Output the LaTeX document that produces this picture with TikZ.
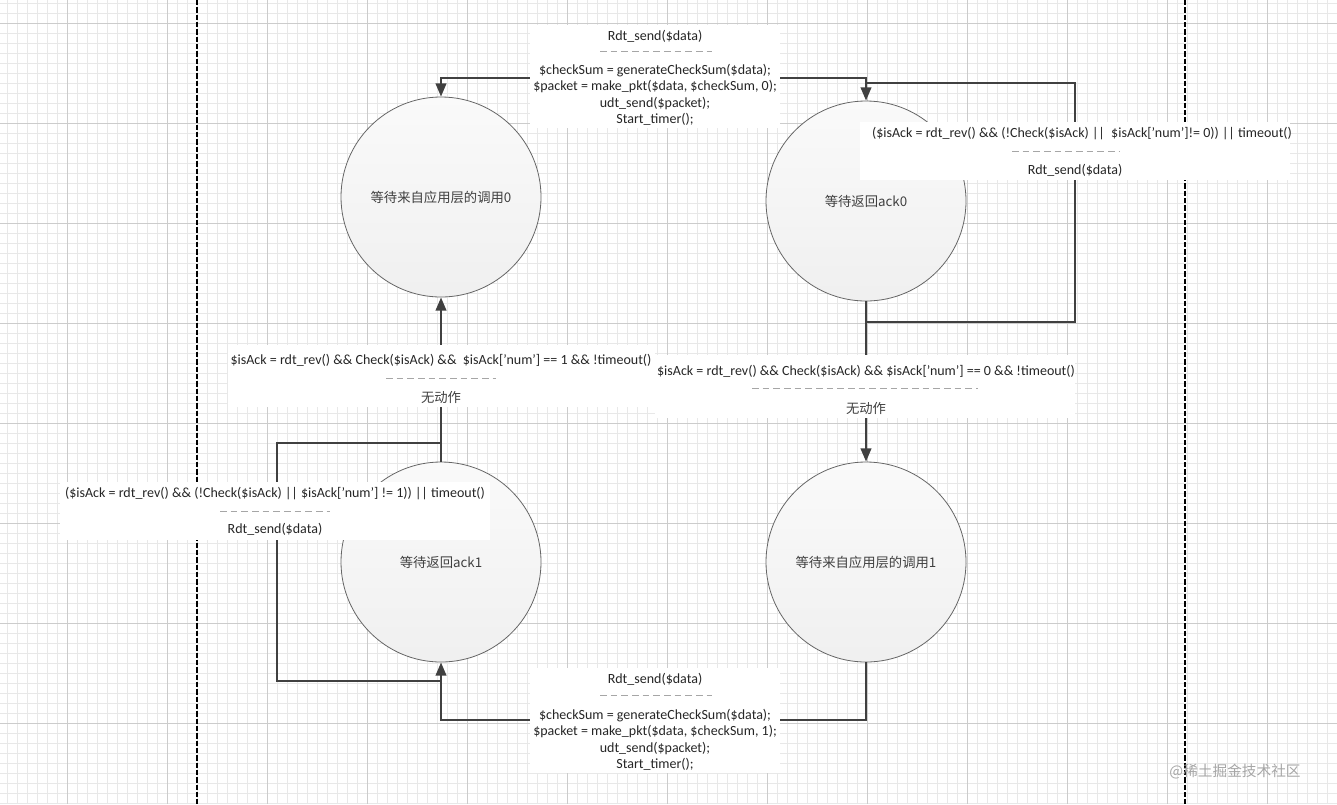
\documentclass[tikz,border=0pt]{standalone}
\usepackage{fontspec}
\setmainfont{Carlito}
\newfontfamily\cjk{Noto Sans CJK SC}
\usetikzlibrary{arrows.meta}
\begin{document}
\begin{tikzpicture}[x=0.75pt,y=-0.75pt,
  st/.style={circle,draw=gray!80!black,line width=0.6pt,minimum size=150pt,inner sep=0pt,
    top color=gray!4,bottom color=gray!12,font=\cjk\fontsize{10}{12}\selectfont,text=black!75},
  conn/.style={draw=black!75,line width=1.6pt},
  arr/.style={-{Triangle[length=10pt,width=8pt]}},
  box/.style={fill=white,draw=none,inner sep=0pt},
  lbl/.style={font=\fontsize{10.5}{12.4}\selectfont,align=center,inner sep=0pt,text=black!85},
  zh/.style={font=\cjk\fontsize{10}{12}\selectfont,inner sep=0pt,text=black!75},
  sep/.style={draw=gray!70,line width=0.7pt,dash pattern=on 5pt off 3pt}]
\useasboundingbox (0,0) rectangle (1337,804);
\fill[white] (0,0) rectangle (1337,804);
% grid
\foreach \x in {7,17,...,1337} \draw[black!9,line width=0.4pt] (\x,0) -- (\x,804);
\foreach \y in {3,13,...,804} \draw[black!9,line width=0.4pt] (0,\y) -- (1337,\y);
\foreach \x in {67,167,...,1337} \draw[black!20,line width=0.5pt] (\x,0) -- (\x,804);
\foreach \y in {23,123,...,804} \draw[black!20,line width=0.5pt] (0,\y) -- (1337,\y);
\draw[black,line width=0.8pt,dash pattern=on 4pt off 1.5pt] (197,0) -- (197,804);
\draw[black,line width=0.8pt,dash pattern=on 4pt off 1.5pt] (1185,0) -- (1185,804);

% states
\node[st] (A) at (441,197) {等待来自应用层的调用0};
\node[st] (B) at (866,201) {等待返回ack0};
\node[st] (C) at (441,562) {等待返回ack1};
\node[st] (D) at (866,562) {等待来自应用层的调用1};

\coordinate (t1) at (441,78); \coordinate (t2) at (866,78);
\coordinate (b1) at (866,322); \coordinate (b2) at (1075,322);
\coordinate (b3) at (1075,83); \coordinate (b4) at (866,83);
\coordinate (c1) at (441,443); \coordinate (c2) at (277,443);
\coordinate (c3) at (277,681); \coordinate (c4) at (441,681);
\coordinate (d1) at (866,720); \coordinate (d2) at (441,720);

% connectors
\draw[conn,{Triangle[length=10pt,width=8pt]}-{Triangle[length=10pt,width=8pt]}] (A.north) -- (t1) -- (t2) -- (B.north);
\draw[conn] (B.south) -- (b1) -- (b2) -- (b3) -- (b4);
\draw[conn,arr] (B.south) -- (D.north);
\draw[conn,arr] (C.north) -- (A.south);
\draw[conn] (C.north) -- (c1) -- (c2) -- (c3) -- (c4);
\draw[conn,arr] (D.south) -- (d1) -- (d2) -- (C.south);

% label boxes
\fill[white] (530,25) rectangle (780,128);
\fill[white] (860,122) rectangle (1290,180);
\fill[white] (228,345) rectangle (655,407);
\fill[white] (655,355) rectangle (1075,418);
\fill[white] (60,482) rectangle (490,540);
\fill[white] (530,668) rectangle (780,773);

% top label
\node[lbl] (l1a) at (655,36) {Rdt\_send(\$data)};
\draw[sep] (600,51) -- (712,51);
\node[lbl] (l1b) at (655,95) {\$checkSum = generateCheckSum(\$data);\\\$packet = make\_pkt(\$data, \$checkSum, 0);\\udt\_send(\$packet);\\Start\_timer();};
% B loop label
\node[lbl] (l2a) at (1082,134) {(\$isAck = rdt\_rev() \&\& (!Check(\$isAck) ||~ \$isAck['num']!= 0)) || timeout()};
\draw[sep] (1012,151) -- (1120,151);
\node[lbl] (l2b) at (1075,170) {Rdt\_send(\$data)};
% C->A label
\node[lbl] (l3a) at (441,360) {\$isAck = rdt\_rev() \&\& Check(\$isAck) \&\&~ \$isAck['num'] == 1 \&\& !timeout()};
\draw[sep] (386,378) -- (496,378);
\node[zh] (l3b) at (441,397) {无动作};
% B->D label
\node[lbl] (l4a) at (866,371) {\$isAck = rdt\_rev() \&\& Check(\$isAck) \&\& \$isAck['num'] == 0 \&\& !timeout()};
\draw[sep] (752,388) -- (978,388);
\node[zh] (l4b) at (866,408) {无动作};
% C loop label
\node[lbl] (l5a) at (275,494) {(\$isAck = rdt\_rev() \&\& (!Check(\$isAck) || \$isAck['num'] != 1)) || timeout()};
\draw[sep] (220,511) -- (330,511);
\node[lbl] (l5b) at (275,529) {Rdt\_send(\$data)};
% bottom label
\node[lbl] (l6a) at (655,679) {Rdt\_send(\$data)};
\draw[sep] (600,695) -- (712,695);
\node[lbl] (l6b) at (655,740) {\$checkSum = generateCheckSum(\$data);\\\$packet = make\_pkt(\$data, \$checkSum, 1);\\udt\_send(\$packet);\\Start\_timer();};
% watermark
\node[font=\cjk\fontsize{11}{13}\selectfont,text=gray!70,inner sep=0pt] (wm) at (1235,772) {@稀土掘金技术社区};
\end{tikzpicture}
\end{document}
